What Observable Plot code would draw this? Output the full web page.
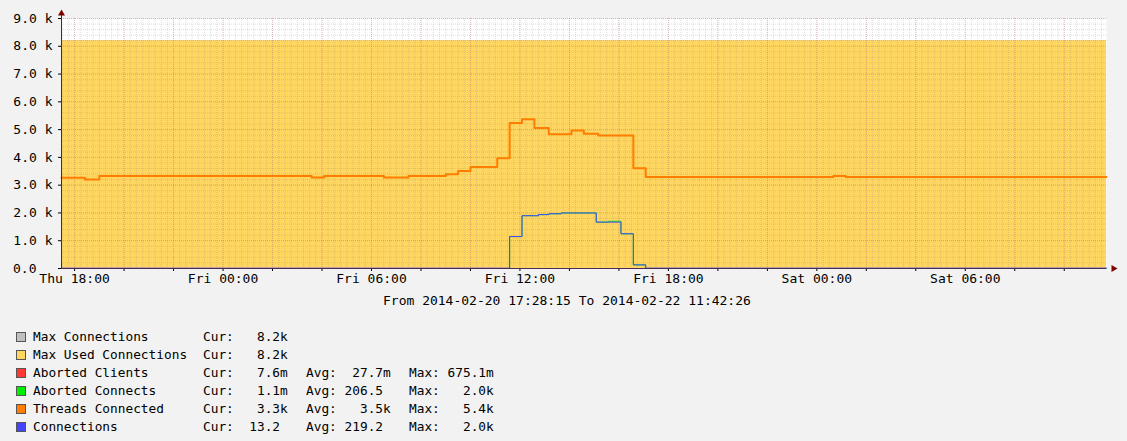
<!DOCTYPE html>
<html>
<head>
<meta charset="utf-8">
<script src="https://cdn.jsdelivr.net/npm/d3@7"></script>
<script src="https://cdn.jsdelivr.net/npm/@observablehq/plot@0.6"></script>
<style>
  html, body { margin: 0; padding: 0; background: #F2F2F2; }
  #wrap { position: relative; width: 1127px; height: 441px; overflow: hidden; font-family: "DejaVu Sans Mono", monospace; font-size: 13px; color: #000; }
  #chart { position: absolute; left: 0; top: 0; }
  .abs { position: absolute; white-space: pre; line-height: 16px; }
  #legend .abs { font-size: 12.8px; }
  .sw { position: absolute; width: 8px; height: 8px; border: 1px solid #555; }
</style>
</head>
<body>
<div id="wrap">
  <div id="chart"></div>
  <div id="range" class="abs" style="left:383px; top:293px;"></div>
  <div id="legend"></div>
</div>
<script>
// ---- data ----
const rangeStart = "2014-02-20T17:28:15";
const rangeEnd = "2014-02-22T11:42:26";

const seriesNames = ["Max Connections", "Max Used Connections", "Aborted Clients", "Aborted Connects", "Threads Connected", "Connections"];
const seriesColors = ["#C0C0C0", "#FFD660", "#FF3932", "#00EE00", "#FF7D00", "#4444FF"];
const legendCur = ["Cur:   8.2k", "Cur:   8.2k", "Cur:   7.6m", "Cur:   1.1m", "Cur:   3.3k", "Cur:  13.2 "];
const legendAvg = ["", "", "Avg:  27.7m", "Avg: 206.5 ", "Avg:   3.5k", "Avg: 219.2 "];
const legendMax = ["", "", "Max: 675.1m", "Max:   2.0k", "Max:   5.4k", "Max:   2.0k"];

const maxConnTime = [rangeStart, rangeEnd];
const maxConnValue = [8200, 8200];
const maxUsedTime = [rangeStart, rangeEnd];
const maxUsedValue = [8200, 8200];

const abortedClientsTime = [rangeStart, rangeEnd];
const abortedClientsValue = [0.0076, 0.0076];

const threadsTime = [rangeStart, "2014-02-20T18:25", "2014-02-20T19:00", "2014-02-21T03:35", "2014-02-21T04:05",
  "2014-02-21T06:30", "2014-02-21T07:30", "2014-02-21T09:00", "2014-02-21T09:30", "2014-02-21T10:00",
  "2014-02-21T11:05", "2014-02-21T11:35", "2014-02-21T12:05", "2014-02-21T12:35", "2014-02-21T13:10",
  "2014-02-21T14:05", "2014-02-21T14:35", "2014-02-21T15:10", "2014-02-21T16:35", "2014-02-21T17:05",
  "2014-02-22T00:40", "2014-02-22T01:10", rangeEnd];
const threadsValue = [3270, 3200, 3330, 3280, 3330,
  3280, 3330, 3390, 3510, 3650,
  3970, 5240, 5370, 5060, 4830,
  4970, 4850, 4790, 3610, 3290,
  3330, 3290, 3290];

const connTime = [rangeStart, "2014-02-21T11:35", "2014-02-21T12:05", "2014-02-21T12:45", "2014-02-21T13:10",
  "2014-02-21T13:40", "2014-02-21T15:05", "2014-02-21T16:05", "2014-02-21T16:35", "2014-02-21T17:05", rangeEnd];
const connValue = [12, 1150, 1900, 1940, 1970,
  2000, 1670, 1250, 130, 13, 13];

const abortedConnTime = [rangeStart, "2014-02-21T11:35", "2014-02-21T12:05", "2014-02-21T12:45", "2014-02-21T13:10",
  "2014-02-21T13:40", "2014-02-21T15:05", "2014-02-21T15:35", "2014-02-21T16:05", "2014-02-21T16:35", "2014-02-21T17:05", rangeEnd];
const abortedConnValue = [0, 1150, 1900, 1940, 1970,
  2000, 1670, 1700, 1250, 130, 1.1, 1.1];

const yTickValues = [0, 1000, 2000, 3000, 4000, 5000, 6000, 7000, 8000, 9000];

// ---- build ----
const toDate = s => new Date(s + "Z");
const rows = (ts, vs) => ts.map((t, i) => ({t: toDate(t), v: vs[i]}));
const t0 = toDate(rangeStart), t1 = toDate(rangeEnd);

const minorX = d3.utcMinute.every(15).range(t0, t1);
const majorX = d3.utcHour.every(2).range(t0, t1);
const labelX = d3.utcHour.every(6).range(t0, t1);
const minorY = d3.range(0, 9001, 200);
const fmtTime = d3.utcFormat("%a %H:%M");
const fmtY = d => d === 0 ? "" : (d / 1000).toFixed(1) + " k";

const chart = Plot.plot({
  width: 1127,
  height: 300,
  marginTop: 18,
  marginLeft: 61,
  marginRight: 21,
  marginBottom: 32,
  style: {fontFamily: "DejaVu Sans Mono", fontSize: "13px", background: "transparent", color: "#000"},
  x: {type: "utc", domain: [t0, t1]},
  y: {domain: [0, 9000]},
  marks: [
    Plot.frame({fill: "#FFFFFF", stroke: null}),
    Plot.areaY(rows(maxConnTime, maxConnValue), {x: "t", y: "v", curve: "step-after", fill: seriesColors[0]}),
    Plot.areaY(rows(maxUsedTime, maxUsedValue), {x: "t", y: "v", curve: "step-after", fill: seriesColors[1]}),
    Plot.ruleX(minorX, {stroke: "#8C8C8C", strokeOpacity: 0.28, strokeDasharray: "1,1"}),
    Plot.ruleY(minorY, {stroke: "#8C8C8C", strokeOpacity: 0.28, strokeDasharray: "1,1"}),
    Plot.ruleX(majorX, {stroke: "#D07070", strokeOpacity: 0.38, strokeDasharray: "1,1"}),
    Plot.ruleY(yTickValues, {stroke: "#D07070", strokeOpacity: 0.38, strokeDasharray: "1,1"}),
    Plot.axisY({ticks: yTickValues, tickSize: 3, tickPadding: 6, tickFormat: fmtY, label: null, fill: "#000"}),
    Plot.axisY({ticks: [0], tickSize: 0, tickPadding: 25, tickFormat: () => "0.0", label: null, fill: "#000"}),
    Plot.axisX({ticks: majorX, tickSize: 3, tickFormat: () => "", label: null}),
    Plot.axisX({ticks: labelX, tickSize: 0, tickPadding: 5, tickFormat: fmtTime, label: null, fill: "#000"}),
    Plot.line(rows(abortedClientsTime, abortedClientsValue), {x: "t", y: "v", curve: "step-after", stroke: seriesColors[2], strokeWidth: 1}),
    Plot.line(rows(abortedConnTime, abortedConnValue), {x: "t", y: "v", curve: "step-after", stroke: seriesColors[3], strokeWidth: 1}),
    Plot.line(rows(threadsTime, threadsValue), {x: "t", y: "v", curve: "step-after", stroke: seriesColors[4], strokeWidth: 2}),
    Plot.line(rows(connTime, connValue), {x: "t", y: "v", curve: "step-after", stroke: seriesColors[5], strokeWidth: 1}),
    Plot.ruleX([t0], {y1: 0, y2: 9250, stroke: "#333", strokeWidth: 1}),
    Plot.ruleY([0], {x1: t0, x2: t1, stroke: "#4A2A5A", strokeWidth: 1}),
    Plot.dot([t0], {x: d => d, frameAnchor: "top", dy: -5, symbol: "triangle", r: 2.6, fill: "#7F0000", stroke: null}),
    Plot.dot([t1], {x: d => d, frameAnchor: "bottom", dx: 7, symbol: "triangle", rotate: 90, r: 2.6, fill: "#7F0000", stroke: null})
  ]
});
document.getElementById("chart").appendChild(chart);

document.getElementById("range").textContent =
  "From " + rangeStart.replace("T", " ") + " To " + rangeEnd.replace("T", " ");

const legend = document.getElementById("legend");
seriesNames.forEach((name, i) => {
  const cy = 337 + i * 18;
  const sw = document.createElement("div");
  sw.className = "sw";
  sw.style.left = "16px";
  sw.style.top = (cy - 5) + "px";
  sw.style.background = seriesColors[i];
  legend.appendChild(sw);
  const cols = [[33, name], [203, legendCur[i]], [306, legendAvg[i]], [409, legendMax[i]]];
  cols.forEach(([x, txt]) => {
    if (!txt) return;
    const d = document.createElement("div");
    d.className = "abs";
    d.style.left = x + "px";
    d.style.top = (cy - 8) + "px";
    d.textContent = txt;
    legend.appendChild(d);
  });
});
</script>
</body>
</html>
